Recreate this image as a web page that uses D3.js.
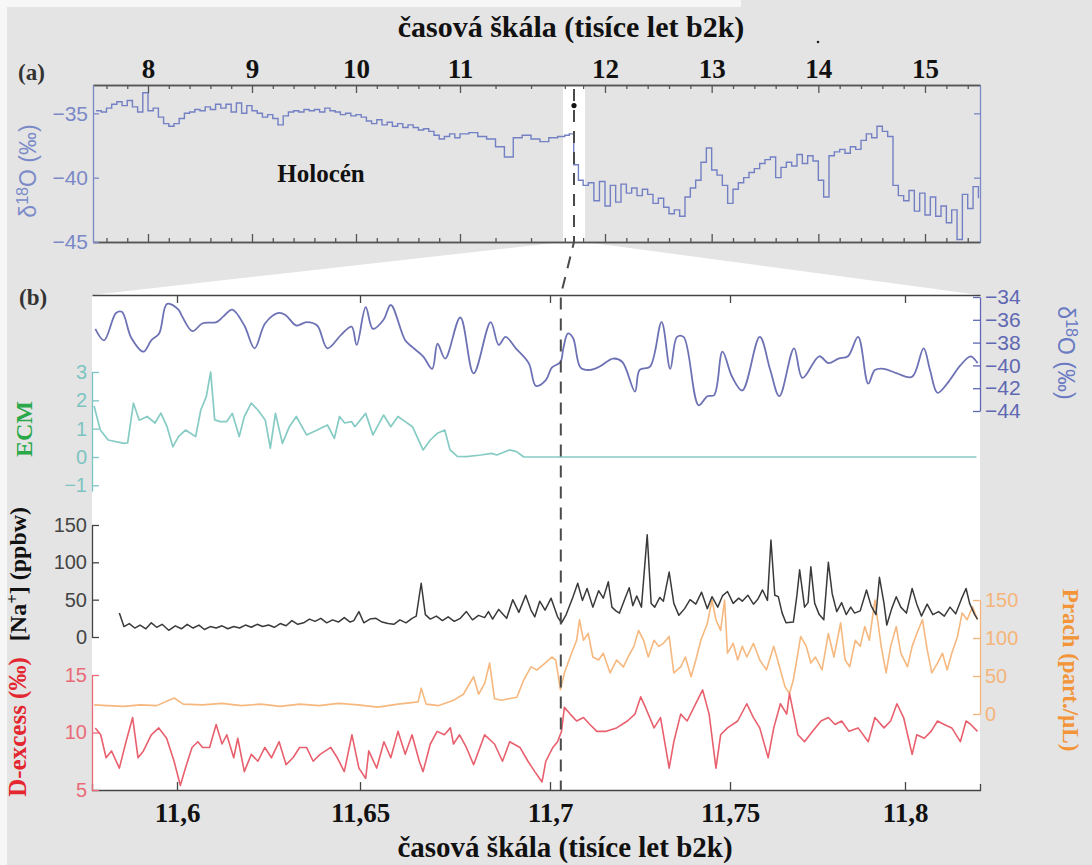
<!DOCTYPE html>
<html>
<head>
<meta charset="utf-8">
<script src="https://cdn.jsdelivr.net/npm/d3@7"></script>
<style>
body { margin: 0; background: #fff; }
svg { display: block; }
</style>
</head>
<body>
<svg id="chart" width="1092" height="865"></svg>
<script>
// ---- data ----
// (a) NGRIP d18O, 50-yr steps from 7.5 to 15.5 kyr b2k
const topStart = 7.5, topStep = 0.05
const topD18O = [
  -34.8, -34.9, -34.6, -34.3, -34.1, -34.4, -34.0, -34.5, -34.9, -33.4,
  -34.8, -34.6, -35.3, -35.8, -36.0, -35.8, -35.4, -35.0, -34.9, -34.7,
  -34.8, -34.5, -34.7, -34.3, -34.6, -34.3, -34.9, -34.2, -35.0, -34.4,
  -34.8, -35.0, -35.3, -35.1, -35.4, -35.9, -35.2, -34.9, -34.8, -34.9,
  -34.7, -34.8, -34.7, -34.9, -34.6, -34.8, -34.9, -35.1, -35.0, -35.2,
  -35.1, -35.3, -35.6, -35.8, -35.5, -35.9, -35.7, -36.0, -35.8, -36.1,
  -35.9, -36.1, -36.3, -36.2, -36.4, -36.7, -37.0, -36.8, -36.6, -36.9,
  -36.6, -36.5, -36.8, -37.0, -37.6, -38.4, -36.9, -36.7, -37.0, -37.2,
  -36.9, -36.8, -36.7, -36.6, -39.0, -40.2, -40.6, -40.4, -41.8, -40.3,
  -42.2, -40.6, -41.9, -40.5, -41.2, -40.8, -41.4, -40.9, -41.3, -42.0,
  -41.6, -42.3, -42.8, -42.5, -43.0, -41.5, -40.8, -40.2, -38.8, -37.7,
  -39.4, -39.8, -40.6, -42.0, -40.9, -40.4, -40.0, -39.6, -39.3, -38.9,
  -38.6, -38.4, -40.0, -39.2, -38.8, -39.1, -38.2, -38.9, -38.3, -38.7,
  -40.2, -41.5, -38.3, -38.0, -37.8, -38.1, -37.6, -37.8, -37.1, -36.6,
  -36.9, -36.0, -36.4, -36.8, -40.6, -41.4, -41.8, -41.0, -42.6, -41.2,
  -42.9, -41.5, -43.0, -42.2, -43.5, -42.5, -44.8, -41.3, -42.4, -40.7,
  -41.6
]
const topTicks = [8, 9, 10, 11, 12, 13, 14, 15]

// (b) zoom window, ages in years b2k
const zoomRange = [11580, 11820]
const bTicks = [11600, 11650, 11700, 11750, 11800]
const onset = 11703
const onsetMarkD18O = -34.4

const d18O = [
  [11580.3,-36.8],[11582.4,-37.8],[11585.3,-35.4],[11586.7,-35.3],[11589.0,-37.6],[11591.9,-38.8],
  [11593.8,-37.8],[11595.7,-37.2],[11597.6,-34.6],[11600.4,-35.1],[11601.4,-35.7],[11604.2,-37.0],
  [11607.0,-36.3],[11610.8,-36.2],[11612.7,-35.7],[11615.1,-35.1],[11618.4,-36.5],[11621.2,-38.5],
  [11624.1,-36.3],[11627.8,-35.4],[11629.7,-35.6],[11632.6,-36.5],[11635.4,-36.2],[11638.3,-36.5],
  [11641.1,-38.5],[11644.9,-37.3],[11647.7,-36.6],[11649.1,-38.2],[11651.5,-34.9],[11653.4,-36.8],
  [11656.2,-36.0],[11658.1,-34.7],[11661.9,-37.8],[11663.8,-38.4],[11666.6,-39.2],[11669.0,-40.3],
  [11670.4,-38.1],[11672.4,-39.4],[11676.4,-35.8],[11679.9,-40.7],[11684.4,-36.2],[11686.5,-38.2],
  [11688.3,-37.5],[11691.0,-38.5],[11694.4,-39.8],[11696.3,-41.8],[11698.9,-41.3],[11700.5,-40.2],
  [11702.9,-39.7],[11703.7,-38.5],[11705.0,-37.2],[11706.4,-37.6],[11708.5,-40.2],[11711.1,-40.4],
  [11713.8,-40.1],[11717.5,-39.4],[11720.1,-39.7],[11723.6,-42.3],[11724.9,-40.4],[11727.8,-40.1],
  [11731.0,-36.2],[11733.4,-40.3],[11735.3,-37.5],[11737.1,-37.5],[11741.3,-43.5],[11743.7,-42.7],
  [11745.6,-42.6],[11747.9,-38.8],[11750.6,-41.0],[11753.5,-42.2],[11758.5,-37.5],[11761.5,-40.4],
  [11764.1,-42.7],[11768.3,-38.5],[11770.7,-41.1],[11775.5,-39.2],[11778.1,-39.8],[11781.0,-39.4],
  [11783.7,-39.2],[11786.6,-37.5],[11789.5,-41.6],[11791.4,-40.4],[11794.0,-40.3],[11797.7,-40.7],
  [11802.0,-41.0],[11805.2,-38.5],[11807.0,-40.4],[11809.1,-42.4],[11811.8,-41.6],[11815.5,-40.0],
  [11818.4,-39.2],[11820.3,-39.8]
]

const ecm = [
  [11580.0,1.8],[11581.5,0.95],[11583.4,0.6],[11587.2,0.48],[11588.1,0.5],[11589.5,1.9],[11590.9,1.3],
  [11592.8,1.43],[11594.7,1.2],[11596.1,1.55],[11597.6,1.07],[11599.0,0.36],[11600.4,0.72],[11602.3,0.95],
  [11603.7,0.84],[11605.1,0.72],[11606.5,1.66],[11608.0,2.13],[11609.2,3.0],[11610.3,1.31],[11611.8,1.25],
  [11613.6,1.25],[11615.1,1.54],[11617.0,0.72],[11618.4,1.43],[11620.3,1.9],[11622.1,1.66],[11624.1,1.31],
  [11625.5,0.31],[11626.9,1.54],[11628.8,0.48],[11630.7,1.07],[11632.6,1.43],[11635.4,0.78],[11638.3,0.95],
  [11641.1,1.13],[11643.0,0.66],[11644.4,1.43],[11645.8,1.2],[11647.7,1.25],[11648.6,1.07],[11651.5,1.54],
  [11653.4,0.78],[11656.2,1.48],[11658.1,1.07],[11660.0,1.43],[11661.9,1.25],[11663.8,1.07],[11666.6,0.25],
  [11668.5,0.6],[11670.4,0.84],[11672.3,0.95],[11673.7,0.25],[11675.6,0.02],[11678.0,0.01],[11681.8,0.07],
  [11684.6,0.13],[11686.0,0.07],[11689.3,0.25],[11691.2,0.19],[11693.1,0],[11820,0]
]

const sodium = [
  [11586.1,32],[11587.2,14],[11588.5,18],[11589.8,12],[11591.1,16],[11592.5,11],[11593.8,19],[11595.1,13],
  [11596.4,17],[11598.0,9],[11599.6,15],[11601.2,11],[11602.8,17],[11604.4,12],[11606.0,16],[11607.5,10],
  [11609.1,14],[11610.7,12],[11612.3,15],[11613.9,11],[11615.5,14],[11617.1,12],[11618.7,16],[11620.3,13],
  [11621.9,17],[11623.4,14],[11625.0,16],[11626.6,13],[11628.2,18],[11629.8,15],[11631.4,22],[11633.0,17],
  [11634.6,19],[11636.2,24],[11637.7,21],[11639.3,25],[11640.9,19],[11642.5,23],[11644.1,20],[11645.7,26],
  [11647.3,20],[11648.3,22],[11649.7,34],[11651.0,19],[11652.6,24],[11654.2,25],[11655.8,20],[11657.4,18],
  [11658.9,17],[11660.5,23],[11662.1,19],[11663.7,25],[11664.8,28],[11666.1,72],[11667.2,30],[11668.5,24],
  [11670.1,28],[11671.7,22],[11673.2,27],[11674.8,21],[11676.4,25],[11678.0,34],[11679.6,23],[11681.2,29],
  [11682.8,26],[11683.8,34],[11684.9,24],[11686.5,37],[11687.5,31],[11688.6,25],[11690.2,50],[11691.8,33],
  [11693.6,56],[11695.0,36],[11696.0,27],[11697.3,48],[11698.7,36],[11700.3,52],[11702.1,27],[11703.2,19],
  [11704.5,30],[11706.4,54],[11707.7,72],[11709.0,49],[11710.3,65],[11711.9,40],[11713.5,62],[11714.8,52],
  [11716.2,74],[11717.2,40],[11718.3,35],[11719.3,32],[11720.7,50],[11722.0,66],[11723.0,42],[11724.1,55],
  [11725.4,40],[11727.0,137],[11728.1,45],[11729.1,40],[11730.5,53],[11731.5,48],[11733.1,87],[11734.4,45],
  [11735.8,29],[11737.4,38],[11738.9,50],[11740.5,44],[11742.1,60],[11743.7,38],[11745.0,54],[11746.6,40],
  [11747.9,55],[11749.3,61],[11750.9,45],[11752.5,52],[11753.5,48],[11755.1,56],[11756.7,44],[11758.0,51],
  [11759.3,63],[11760.7,49],[11761.7,130],[11762.8,56],[11763.8,54],[11764.9,32],[11766.0,19],[11768.1,20],
  [11769.1,55],[11769.9,90],[11771.3,40],[11772.3,46],[11773.1,94],[11774.2,45],[11775.5,30],[11776.8,23],
  [11778.1,100],[11779.2,58],[11780.5,34],[11781.9,46],[11783.2,30],[11784.5,40],[11785.6,32],[11787.2,35],
  [11789.0,63],[11790.3,42],[11791.7,30],[11792.7,80],[11794.0,45],[11794.8,16],[11796.2,38],[11797.5,54],
  [11798.8,40],[11800.4,32],[11802.0,65],[11803.3,44],[11804.6,28],[11806.2,44],[11807.8,30],[11809.4,34],
  [11811.0,28],[11812.6,40],[11814.2,31],[11815.8,51],[11817.1,65],[11818.1,45],[11819.5,30],[11820.3,24]
]

const dust = [
  [11580.0,12],[11583.2,11],[11587.2,10],[11591.1,12],[11595.1,11],[11599.3,21],[11601.7,13],[11607.0,12],
  [11612.3,14],[11617.6,11],[11622.9,13],[11628.2,10],[11633.5,13],[11638.8,11],[11644.1,14],[11649.4,12],
  [11654.7,9],[11660.0,13],[11665.3,16],[11666.1,34],[11667.4,13],[11670.6,11],[11674.6,18],[11677.2,26],
  [11679.9,49],[11681.2,26],[11682.8,40],[11684.1,67],[11685.4,20],[11687.3,18],[11689.1,20],[11691.3,22],
  [11693.1,45],[11695.0,62],[11696.6,58],[11698.7,67],[11700.5,75],[11701.6,71],[11702.9,32],[11704.0,54],
  [11705.6,75],[11707.4,97],[11708.2,124],[11709.3,97],[11710.6,106],[11711.9,75],[11713.5,71],[11714.8,80],
  [11716.7,54],[11718.5,71],[11720.4,62],[11721.7,75],[11723.3,89],[11724.6,110],[11726.0,97],[11727.3,75],
  [11728.9,97],[11730.2,89],[11731.5,93],[11733.1,102],[11734.4,54],[11736.3,62],[11737.6,75],[11739.2,49],
  [11740.5,71],[11741.9,97],[11743.7,119],[11745.0,150],[11746.1,124],[11747.4,110],[11748.5,150],[11749.3,80],
  [11750.9,93],[11752.2,71],[11753.5,89],[11754.8,75],[11756.7,93],[11758.5,71],[11760.4,58],[11762.5,89],
  [11764.4,58],[11765.7,36],[11767.0,27],[11768.1,45],[11769.4,80],[11770.2,102],[11771.8,89],[11773.1,67],
  [11774.4,75],[11776.3,58],[11778.1,106],[11779.7,75],[11781.6,120],[11782.9,71],[11784.2,62],[11785.8,97],
  [11787.2,89],[11788.5,115],[11789.8,97],[11791.4,150],[11793.2,89],[11794.6,54],[11795.9,89],[11797.5,115],
  [11798.8,80],[11800.7,62],[11802.0,89],[11803.3,106],[11804.9,124],[11806.2,85],[11807.5,54],[11809.1,67],
  [11810.5,80],[11811.8,58],[11813.1,80],[11814.7,102],[11816.0,133],[11817.4,124],[11818.9,141],[11820.3,124]
]

const dExcess = [
  [11580.3,10.4],[11581.6,9.8],[11582.9,7.8],[11584.2,8.4],[11586.1,6.9],[11587.7,9.2],[11589.3,11.3],
  [11590.6,7.8],[11591.9,8.4],[11593.8,9.8],[11595.6,10.4],[11597.5,9.5],[11599.3,7.5],[11600.9,5.4],
  [11602.3,6.9],[11604.1,8.7],[11605.7,9.2],[11607.0,8.7],[11608.9,8.7],[11610.7,10.7],[11612.3,9.0],
  [11613.6,9.8],[11615.5,7.8],[11616.6,9.5],[11618.4,6.6],[11620.3,8.1],[11622.1,7.5],[11624.0,8.7],
  [11625.8,7.8],[11627.9,9.2],[11629.8,7.2],[11631.7,7.8],[11633.5,8.7],[11635.4,8.7],[11637.2,7.5],
  [11639.1,8.1],[11642.0,8.7],[11643.8,7.8],[11645.7,6.6],[11647.8,9.8],[11649.7,6.9],[11651.5,6.0],
  [11652.3,8.4],[11654.4,6.9],[11656.3,9.2],[11658.1,7.8],[11660.0,10.1],[11661.9,8.1],[11663.7,9.8],
  [11665.6,7.5],[11666.6,6.6],[11668.5,9.0],[11670.3,10.1],[11672.2,9.8],[11673.8,10.4],[11674.6,9.0],
  [11676.2,9.8],[11678.0,8.7],[11679.9,7.2],[11682.8,9.8],[11685.4,9.0],[11687.5,7.5],[11689.4,9.2],
  [11692.1,8.7],[11694.2,7.5],[11696.0,6.6],[11697.9,5.7],[11698.9,7.5],[11700.8,8.7],[11702.1,9.2],
  [11703.2,10.1],[11704.0,12.2],[11705.6,11.6],[11707.4,11.0],[11709.3,11.3],[11711.1,10.7],[11713.0,10.1],
  [11715.6,10.1],[11718.5,10.4],[11721.5,11.0],[11723.6,11.6],[11725.2,13.1],[11726.5,12.2],[11728.9,10.4],
  [11730.7,11.3],[11733.1,6.9],[11734.4,9.2],[11736.3,11.6],[11738.1,11.0],[11740.0,12.2],[11742.4,13.7],
  [11744.2,11.6],[11746.1,6.9],[11747.4,9.8],[11749.3,10.4],[11752.2,11.0],[11754.8,12.5],[11756.7,11.3],
  [11758.5,10.4],[11760.9,7.8],[11762.5,10.4],[11764.4,12.5],[11766.2,11.6],[11767.0,13.4],[11769.4,9.8],
  [11771.3,9.2],[11773.6,10.1],[11776.0,11.0],[11778.1,11.3],[11780.0,10.7],[11781.9,11.0],[11784.0,10.1],
  [11786.6,10.4],[11789.5,9.2],[11791.4,11.3],[11794.0,10.4],[11795.9,11.0],[11797.7,12.5],[11799.6,11.3],
  [11802.0,8.1],[11803.3,9.8],[11805.4,9.5],[11807.3,10.1],[11809.1,11.0],[11811.0,10.7],[11813.1,10.4],
  [11815.5,9.2],[11817.1,11.0],[11818.4,10.7],[11820.3,10.1]
]

// ---- setup ----
const W = 1092, H = 865
const serif = "'Liberation Serif', 'Times New Roman', serif"
const sans = "'Liberation Sans', Arial, sans-serif"
const svg = d3.select("#chart")

// the printed time axes are not evenly spaced, so the scales follow the printed ticks
const xTop = d3.scaleLinear()
  .domain([7.47, 8, 11, 11.58, 11.703, 11.82, 12, 15, 15.515])
  .range([93, 148, 460, 563, 574, 585, 605, 925, 980])
const yTop = d3.scaleLinear().domain([-45, -32.8]).range([242, 85])
const xB = d3.scaleLinear()
  .domain([11579.5, 11600, 11650, 11700, 11750, 11800, 11821])
  .range([92, 177, 360, 550, 730, 905, 980])
const yD18O = d3.scaleLinear().domain([-44, -34]).range([411, 297])
const yECM = d3.scaleLinear().domain([-1.2, 3]).range([491, 372])
const yNa = d3.scaleLinear().domain([0, 150]).range([637, 525])
const yDust = d3.scaleLinear().domain([0, 150]).range([714, 600])
const yDex = d3.scaleLinear().domain([5, 15]).range([790, 675])

const bLeft = xB.range()[0], bRight = xB.range()[xB.range().length - 1]
const bTop = 295, bBottom = yDex.range()[0]

// background
svg.append("rect").attr("width", W).attr("height", H).attr("fill", "#e4e4e4")
svg.append("rect").attr("width", 741).attr("height", 7).attr("fill", "#f7f7f7")
svg.append("rect").attr("width", 7).attr("height", H).attr("fill", "#f7f7f7")

// white band for the zoomed window + the funnel down to panel (b)
const bandL = xTop(zoomRange[0] / 1000), bandR = xTop(zoomRange[1] / 1000)
svg.append("rect").attr("x", bandL).attr("y", 85).attr("width", bandR - bandL).attr("height", 157).attr("fill", "#fff")
svg.append("polygon")
  .attr("points", [[bandL, 242], [bandR, 242], [bRight, bTop], [bLeft, bTop]].join(" "))
  .attr("fill", "#fff")
svg.append("rect").attr("x", bLeft).attr("y", bTop).attr("width", bRight - bLeft).attr("height", bBottom - bTop).attr("fill", "#fff")

// ---- lines ----
const topLine = d3.line()
  .x((d, i) => xTop(topStart + i * topStep))
  .y(d => yTop(d))
  .curve(d3.curveStepAfter)
svg.append("path").datum(topD18O).attr("d", topLine)
  .attr("fill", "none").attr("stroke", "#7380c4").attr("stroke-width", 1.4)

function series(data, y, color, w, curve) {
  svg.append("path").datum(data)
    .attr("d", d3.line().x(d => xB(d[0])).y(d => y(d[1])).curve(curve || d3.curveLinear))
    .attr("fill", "none").attr("stroke", color).attr("stroke-width", w)
    .attr("stroke-linejoin", "round")
}
series(dust, yDust, "#f6b87e", 1.6)
series(dExcess, yDex, "#e8606e", 1.6)
series(sodium, yNa, "#3a3a3a", 1.5)
series(ecm, yECM, "#86cbc4", 1.7)
series(d18O, yD18O, "#6d72b5", 1.8, d3.curveCatmullRom.alpha(0.5))

// ---- axes ----
function paint(g, color, size, family, weight, textColor) {
  g.attr("font-size", size).attr("font-family", family).attr("font-weight", weight || "normal")
  g.select(".domain").attr("stroke", color).attr("stroke-width", 1.3)
  g.selectAll(".tick line").attr("stroke", color).attr("stroke-width", 1.3)
  g.selectAll(".tick text").attr("fill", textColor || color)
  return g
}
const fmtKyr = d => String(d / 1000).replace(".", ",")
const intFmt = d3.format("d")
const topMinor = d3.range(7.6, 15.5, 0.2).filter(v => Math.abs(v - Math.round(v)) > 0.01)

// panel (a)
paint(svg.append("g").attr("transform", "translate(0,85)")
  .call(d3.axisTop(xTop).tickValues(topTicks).tickSize(-8).tickSizeOuter(0).tickPadding(7).tickFormat(intFmt)),
  "#555", 27, serif, "bold", "#111")
paint(svg.append("g").attr("transform", "translate(0,85)")
  .call(d3.axisTop(xTop).tickValues(topMinor).tickSize(-4).tickSizeOuter(0).tickFormat("")), "#555", 10, sans)
paint(svg.append("g").attr("transform", "translate(0,242)")
  .call(d3.axisBottom(xTop).tickValues(topTicks).tickSize(-8).tickSizeOuter(0).tickFormat("")), "#555", 10, sans)
paint(svg.append("g").attr("transform", "translate(0,242)")
  .call(d3.axisBottom(xTop).tickValues(topMinor).tickSize(-4).tickSizeOuter(0).tickFormat("")), "#555", 10, sans)
paint(svg.append("g").attr("transform", "translate(93,0)")
  .call(d3.axisLeft(yTop).tickValues([-45, -40, -35]).tickSize(-6).tickSizeOuter(0).tickPadding(5)),
  "#7b88c6", 21, sans)
paint(svg.append("g").attr("transform", "translate(980,0)")
  .call(d3.axisRight(yTop).tickValues([-40, -35]).tickSize(-6).tickSizeOuter(0).tickFormat("")),
  "#7b88c6", 10, sans)

// panel (b)
paint(svg.append("g").attr("transform", `translate(0,${bTop})`)
  .call(d3.axisTop(xB).tickValues(bTicks).tickSize(-8).tickSizeOuter(0).tickFormat("")), "#444", 10, sans)
paint(svg.append("g").attr("transform", `translate(0,${bBottom})`)
  .call(d3.axisBottom(xB).tickValues(bTicks).tickSize(-8).tickSizeOuter(-6).tickPadding(13).tickFormat(fmtKyr)),
  "#444", 27, serif, "bold", "#111")
paint(svg.append("g").attr("transform", `translate(${bLeft},0)`)
  .call(d3.axisLeft(yECM).tickValues([-1, 0, 1, 2, 3]).tickSize(-7).tickSizeOuter(0).tickPadding(5).tickFormat(intFmt)),
  "#7cc4c2", 20, sans)
paint(svg.append("g").attr("transform", `translate(${bLeft},0)`)
  .call(d3.axisLeft(yNa).tickValues([0, 50, 100, 150]).tickSize(-7).tickSizeOuter(0).tickPadding(5)),
  "#444", 20, sans)
paint(svg.append("g").attr("transform", `translate(${bLeft},0)`)
  .call(d3.axisLeft(yDex).tickValues([5, 10, 15]).tickSize(-7).tickSizeOuter(0).tickPadding(5)),
  "#ea6a78", 20, sans)
paint(svg.append("g").attr("transform", `translate(${bRight},0)`)
  .call(d3.axisRight(yD18O).tickValues([-44, -42, -40, -38, -36, -34]).tickSize(-7).tickSizeOuter(0).tickPadding(5)),
  "#5f68b2", 21, sans)
paint(svg.append("g").attr("transform", `translate(${bRight},0)`)
  .call(d3.axisRight(yDust).tickValues([0, 50, 100, 150]).tickSize(-7).tickSizeOuter(0).tickPadding(5)),
  "#f5b57a", 20, sans)

// onset line: down panel (a), across the funnel, down panel (b)
const xa = xTop(onset / 1000), xb = xB(onset)
svg.append("path")
  .attr("d", d3.line()([[xa, yTop.range()[1] + 4], [xa, yTop.range()[0]], [xb, bTop], [xb, bBottom]]))
  .attr("fill", "none").attr("stroke", "#4a4a4a").attr("stroke-width", 2).attr("stroke-dasharray", "12,9")
svg.append("circle").attr("cx", xa).attr("cy", yTop(onsetMarkD18O)).attr("r", 2.6).attr("fill", "#111")

// ---- text ----
function label(x, y, opts) {
  const t = svg.append("text").attr("x", x).attr("y", y)
    .attr("font-family", opts.family || serif).attr("font-size", opts.size || 22)
    .attr("font-weight", opts.weight || "bold").attr("fill", opts.color || "#111")
    .attr("text-anchor", opts.anchor || "middle")
  if (opts.rotate) t.attr("transform", `rotate(${opts.rotate},${x},${y})`)
  return t
}
function d18oLabel(t) {
  t.append("tspan").text("δ")
  t.append("tspan").attr("dy", -8).attr("font-size", "70%").text("18")
  t.append("tspan").attr("dy", 8).text("O (‰)")
}

label(571, 37, { size: 30 }).text("časová škála (tisíce let b2k)")
label(565, 857, { size: 29 }).text("časová škála (tisíce let b2k)")
label(18, 80, { size: 23, anchor: "start", color: "#333" }).text("(a)")
label(19, 305, { size: 23, anchor: "start", color: "#333" }).text("(b)")
label(321, 182, { size: 25 }).text("Holocén")
svg.append("circle").attr("cx", 818).attr("cy", 42).attr("r", 1.3).attr("fill", "#222")

d18oLabel(label(36, 171, { family: sans, weight: "normal", size: 23, color: "#7b8bc8", rotate: -90 }))
d18oLabel(label(1058, 353, { family: sans, weight: "normal", size: 23, color: "#6a7ac2", rotate: 90 }))
label(32, 429, { size: 24, color: "#2aa84a", rotate: -90 }).text("ECM")
const naT = label(26, 574, { size: 24, color: "#111", rotate: -90 })
naT.append("tspan").text("[Na")
naT.append("tspan").attr("dy", -8).attr("font-size", "70%").text("+")
naT.append("tspan").attr("dy", 8).text("] (ppbw)")
label(26, 727, { size: 25, color: "#e3262f", rotate: -90 }).text("D-excess (‰)")
label(1063, 670, { size: 23, color: "#f29437", rotate: 90 }).text("Prach (part./µL)")
</script>
</body>
</html>
